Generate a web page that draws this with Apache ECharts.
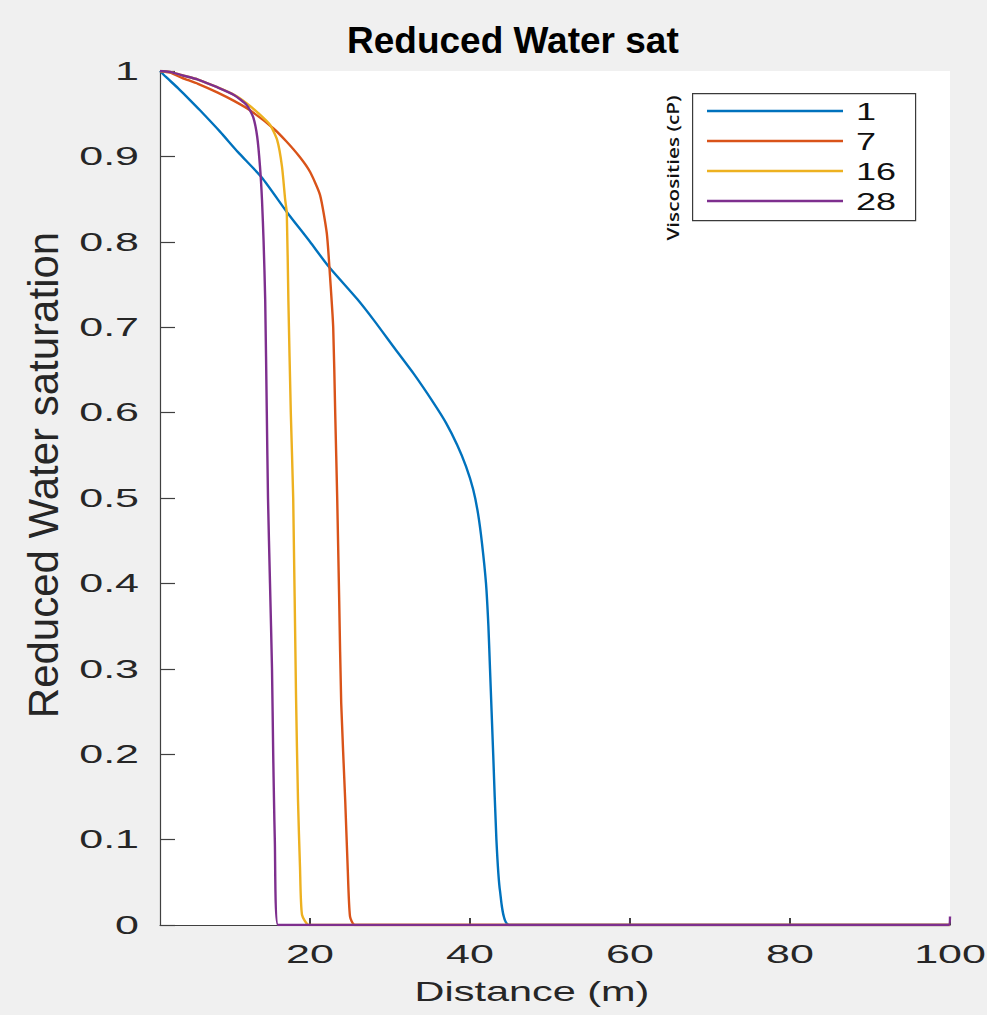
<!DOCTYPE html>
<html>
<head>
<meta charset="utf-8">
<title>Reduced Water sat</title>
<script src="https://cdn.jsdelivr.net/npm/echarts@6/dist/echarts.min.js"></script>
<style>
  html, body { margin: 0; padding: 0; background: #f0f0f0; }
  #chart { width: 987px; height: 1015px; }
</style>
</head>
<body>
<div id="chart"></div>
<script>
// Legend names: oil viscosity of each run (cP)
const viscosities = ['1', '7', '16', '28'];

// Distance along the core (m) and reduced water saturation for each run
const dist_1 = [1.25, 2, 3.5, 5, 6.25, 8.75, 11, 14, 17.1, 20, 22.25, 25.9, 28, 30.6, 33, 35.4, 37, 38.4, 39.5, 40.4, 41, 41.5, 42, 42.3, 42.5, 42.9, 43.3, 43.75, 44.9, 100];
const sat_1  = [1, 0.993, 0.980, 0.966, 0.954, 0.929, 0.905, 0.875, 0.835, 0.800, 0.772, 0.733, 0.708, 0.675, 0.645, 0.612, 0.588, 0.562, 0.537, 0.51, 0.482, 0.447, 0.40, 0.35, 0.30, 0.20, 0.10, 0.04, 0, 0];

const dist_7 = [1.25, 2.5, 4, 6, 8.4, 10.5, 12.5, 15.4, 17, 18.75, 20, 21.25, 22.1, 22.5, 22.9, 23.15, 23.4, 23.65, 23.9, 24.4, 24.7, 25, 25.6, 100];
const sat_7  = [1, 0.998, 0.992, 0.985, 0.975, 0.965, 0.954, 0.933, 0.918, 0.899, 0.882, 0.855, 0.81, 0.76, 0.70, 0.60, 0.50, 0.38, 0.26, 0.146, 0.07, 0.01, 0, 0];

const dist_16 = [1.25, 2.5, 4, 6, 8.4, 10.5, 12.1, 13.5, 15, 15.9, 16.5, 16.9, 17.1, 17.3, 17.6, 17.9, 18.25, 18.5, 18.75, 19, 19.9, 100];
const sat_16  = [1, 0.999, 0.995, 0.99, 0.981, 0.972, 0.962, 0.951, 0.937, 0.919, 0.888, 0.849, 0.834, 0.73, 0.6, 0.5, 0.27, 0.146, 0.068, 0.012, 0, 0];

const dist_28 = [1.25, 2.5, 4, 6, 8.4, 10.5, 12.1, 12.9, 13.4, 13.75, 14, 14.2, 14.4, 14.6, 14.75, 15, 15.25, 15.4, 15.5, 15.6, 16, 99.8, 100];
const sat_28  = [1, 0.999, 0.995, 0.99, 0.981, 0.972, 0.960, 0.946, 0.923, 0.888, 0.849, 0.8, 0.732, 0.6, 0.5, 0.4, 0.3, 0.2, 0.146, 0.1, 0, 0, 0.01];

// Axis tick labels
const xTicks = [20, 40, 60, 80, 100];
const yTicks = [0, 0.1, 0.2, 0.3, 0.4, 0.5, 0.6, 0.7, 0.8, 0.9, 1];

const runs = [
  { dist: dist_1,  sat: sat_1,  color: '#0072BD' },
  { dist: dist_7,  sat: sat_7,  color: '#D95319' },
  { dist: dist_16, sat: sat_16, color: '#EDB120' },
  { dist: dist_28, sat: sat_28, color: '#7E2F8E' }
];

const AXIS_FONT = '"Liberation Sans", Arial, Helvetica, sans-serif';

const chart = echarts.init(document.getElementById('chart'), null, { renderer: 'svg' });

chart.setOption({
  animation: false,
  backgroundColor: '#f0f0f0',
  title: {
    text: 'Reduced Water sat',
    left: 347,
    top: 22,
    padding: 0,
    textStyle: { fontFamily: AXIS_FONT, fontSize: 37, fontWeight: 'bold', color: '#000' }
  },
  legend: {
    data: viscosities,
    orient: 'vertical',
    left: 707,
    top: 98,
    padding: 0,
    itemGap: 4,
    icon: 'rect',
    itemWidth: 136,
    itemHeight: 2.4,
    selectedMode: false,
    textStyle: { fontFamily: AXIS_FONT, fontSize: 24, lineHeight: 26, color: '#111', padding: [0, 0, 0, 8] }
  },
  graphic: [
    {
      type: 'rect',
      left: 692, top: 93, z: 0,
      shape: { width: 223, height: 127 },
      style: { fill: '#fff', stroke: '#3a3a3a', lineWidth: 1.2 }
    },
    {
      type: 'text',
      x: 673, y: 168,
      rotation: Math.PI / 2,
      style: {
        text: 'Viscosities (cP)',
        fontFamily: '"Open Sans", sans-serif',
        fontSize: 17,
        fontWeight: 600,
        fill: '#111',
        align: 'center',
        verticalAlign: 'middle'
      }
    }
  ],
  grid: {
    left: 160, right: 37, top: 71, bottom: 90,
    show: true, backgroundColor: '#fff', borderWidth: 0,
    outerBoundsMode: 'none'
  },
  xAxis: {
    type: 'value',
    min: dist_1[0],
    max: 100,
    name: 'Distance (m)',
    nameLocation: 'middle',
    nameGap: 52,
    nameTextStyle: { fontFamily: AXIS_FONT, fontSize: 28, color: '#262626', padding: [0, 46, 0, 0] },
    splitLine: { show: false },
    axisLine: { show: true, onZero: false, lineStyle: { color: '#404040', width: 1.2 } },
    axisTick: { show: true, inside: true, length: 7, customValues: xTicks, lineStyle: { color: '#404040', width: 2 } },
    axisLabel: { customValues: xTicks, margin: 17, fontFamily: AXIS_FONT, fontSize: 25, color: '#262626' }
  },
  yAxis: {
    type: 'value',
    min: 0,
    max: 1,
    name: 'Reduced Water saturation',
    nameLocation: 'middle',
    nameRotate: 90,
    nameGap: 96,
    nameTextStyle: { fontFamily: AXIS_FONT, fontSize: 42, color: '#262626', padding: [0, 0, 0, 46] },
    splitLine: { show: false },
    axisLine: { show: true, lineStyle: { color: '#404040', width: 1.2 } },
    axisTick: { show: true, inside: true, length: 15, customValues: yTicks, lineStyle: { color: '#404040', width: 1.2 } },
    axisLabel: { customValues: yTicks, margin: 21, fontFamily: AXIS_FONT, fontSize: 25, color: '#262626' }
  },
  series: runs.map((r, i) => ({
    name: viscosities[i],
    type: 'line',
    data: r.dist.map((d, j) => [d, r.sat[j]]),
    showSymbol: false,
    symbol: 'none',
    smooth: 0.2,
    silent: true,
    z: 3 + i,
    color: r.color,
    lineStyle: { width: 2.4, color: r.color }
  }))
});

// The axis lettering is set in a wide face: stretch each text horizontally
// about its own anchor, by font size.
const TEXT_STRETCH = { 25: 1.72, 28: 1.48, 24: 1.5, 17: 1.22 };
function widenText() {
  document.querySelectorAll('#chart svg text').forEach(t => {
    if (t.getAttribute('data-wide')) return;
    const m = /(\d+(?:\.\d+)?)px/.exec(t.getAttribute('style') || '');
    if (!m) return;
    const k = TEXT_STRETCH[Math.round(+m[1])];
    if (!k) return;
    const x = +(t.getAttribute('x') || 0);
    const y = +(t.getAttribute('y') || 0);
    const base = t.getAttribute('transform') || '';
    t.setAttribute('transform', `${base} translate(${x} ${y}) scale(${k} 1) translate(${-x} ${-y})`);
    t.setAttribute('data-wide', '1');
  });
}
widenText();
chart.on('finished', widenText);
</script>
</body>
</html>
